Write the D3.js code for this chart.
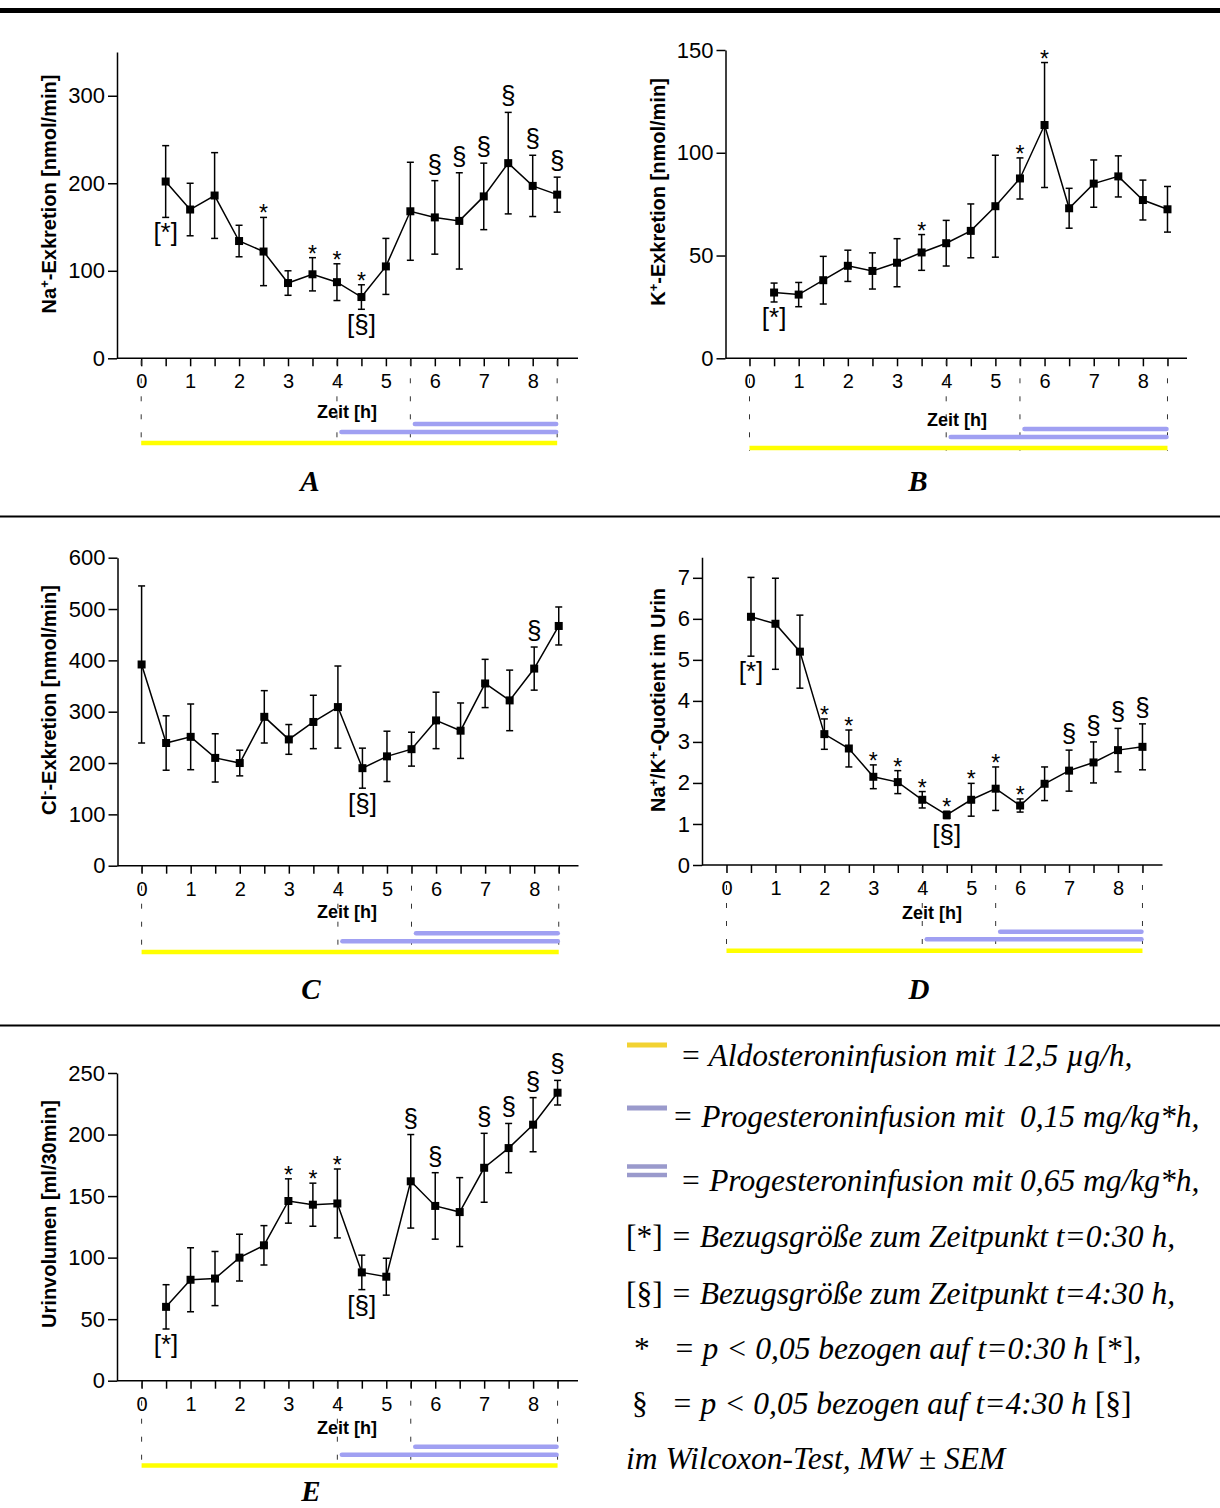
<!DOCTYPE html>
<html lang="de">
<head>
<meta charset="UTF-8">
<title>Aldosteron- und Progesteroninfusion</title>
<script src="https://cdn.jsdelivr.net/npm/d3@7"></script>
<style>
  body { margin: 0; background: #fff; }
  svg text { font-family: Arial, "Liberation Sans", sans-serif; fill: #000; }
  .serif { font-family: "Times New Roman", "Liberation Serif", serif !important; }
</style>
</head>
<body>
<script>
// time points (h)
const hours  = [0.5, 1, 1.5, 2, 2.5, 3, 3.5, 4, 4.5, 5, 5.5, 6, 6.5, 7, 7.5, 8, 8.5];
const hoursC = [0, 0.5, 1, 1.5, 2, 2.5, 3, 3.5, 4, 4.5, 5, 5.5, 6, 6.5, 7, 7.5, 8, 8.5];
const xTicks = [0, 0.5, 1, 1.5, 2, 2.5, 3, 3.5, 4, 4.5, 5, 5.5, 6, 6.5, 7, 7.5, 8, 8.5];

// A: Na+ excretion
const naMean  = [202, 170, 186, 134, 122, 86, 96, 87, 70, 105, 168, 161, 157, 185, 223, 197, 187];
const naSem   = [41, 30, 49, 18, 39, 14, 19, 21, 14, 32, 56, 42, 55, 38, 58, 35, 20];
const naAbove = ["", "", "", "", "*", "", "*", "*", "*", "", "", "§", "§", "§", "§", "§", "§"];
const naBelow = ["[*]", "", "", "", "", "", "", "", "[§]", "", "", "", "", "", "", "", ""];
const naTicks = [0, 100, 200, 300];

// B: K+ excretion
const kMean  = [32, 31, 38, 45, 42.5, 46.5, 51.5, 56, 62, 74, 87.5, 113.5, 73, 85, 88.5, 77, 72.5];
const kSem   = [4.6, 5.9, 11.6, 7.6, 8.8, 11.7, 8.7, 11.1, 13.1, 24.8, 10, 30.4, 9.7, 11.5, 10, 9.7, 11.1];
const kAbove = ["", "", "", "", "", "", "*", "", "", "", "*", "*", "", "", "", "", ""];
const kBelow = ["[*]", "", "", "", "", "", "", "", "", "", "", "", "", "", "", "", ""];
const kTicks = [0, 50, 100, 150];

// C: Cl- excretion
const clMean  = [392, 239, 251, 210, 200, 290, 246, 280, 309, 190, 213, 227, 283, 263, 355, 322, 384, 467];
const clSem   = [153, 53, 64, 47, 25, 51, 29, 52, 80, 39, 49, 33, 55, 54, 47, 59, 42, 37];
const clAbove = ["", "", "", "", "", "", "", "", "", "", "", "", "", "", "", "", "§", ""];
const clBelow = ["", "", "", "", "", "", "", "", "", "[§]", "", "", "", "", "", "", "", ""];
const clTicks = [0, 100, 200, 300, 400, 500, 600];

// D: Na+/K+ ratio
const ratioMean  = [6.05, 5.88, 5.2, 3.19, 2.84, 2.15, 2.02, 1.59, 1.22, 1.59, 1.86, 1.45, 1.98, 2.3, 2.5, 2.8, 2.88];
const ratioSem   = [0.96, 1.11, 0.89, 0.37, 0.45, 0.29, 0.28, 0.2, 0.09, 0.4, 0.53, 0.16, 0.41, 0.5, 0.5, 0.53, 0.56];
const ratioAbove = ["", "", "", "*", "*", "*", "*", "*", "*", "*", "*", "*", "", "§", "§", "§", "§"];
const ratioBelow = ["[*]", "", "", "", "", "", "", "", "[§]", "", "", "", "", "", "", "", ""];
const ratioTicks = [0, 1, 2, 3, 4, 5, 6, 7];

// E: urine volume
const urinMean  = [60, 82, 83, 100, 110, 146, 143, 144, 88, 84.5, 162, 142, 137, 173, 189, 208, 234];
const urinSem   = [18, 26, 22, 19, 16, 18, 17.5, 28, 14, 15, 38, 27, 28, 28, 20, 22, 10];
const urinAbove = ["", "", "", "", "", "*", "*", "*", "", "", "§", "§", "", "§", "§", "§", "§"];
const urinBelow = ["[*]", "", "", "", "", "", "", "", "[§]", "", "", "", "", "", "", "", ""];
const urinTicks = [0, 50, 100, 150, 200, 250];

// infusion periods (h)
const phaseBounds = [0, 4, 5.5, 8.5];
const aldoPeriod = [0, 8.5];
const progLowPeriod = [4, 8.5];
const progHighPeriod = [5.5, 8.5];

const W = 1220, H = 1508;
const svg = d3.select("body").append("svg")
  .attr("width", W).attr("height", H);

// separators
svg.append("line").attr("x1", 0).attr("x2", W).attr("y1", 10.5).attr("y2", 10.5)
  .attr("stroke", "#000").attr("stroke-width", 5);
[516.5, 1025.5].forEach(yy => {
  svg.append("line").attr("x1", 0).attr("x2", W).attr("y1", yy).attr("y2", yy)
    .attr("stroke", "#000").attr("stroke-width", 2);
});

const panels = [
  { letter: "A", t: hours, mean: naMean, sem: naSem, above: naAbove, below: naBelow, yMax: 350, yTicks: naTicks,
    label: [["Na"], ["+", "sup"], ["-Exkretion [nmol/min]"]],
    left: 117, x0: 141.2, x8: 532.7, right: 578, top: 52, bottom: 358.3,
    zeitX: 347, zeitY: 418, blueHi: 424, blueLo: 432, yellow: 443, letterX: 310, letterY: 491, labelX: 56, labelY: 194 },
  { letter: "B", t: hours, mean: kMean, sem: kSem, above: kAbove, below: kBelow, yMax: 150, yTicks: kTicks,
    label: [["K"], ["+", "sup"], ["-Exkretion [nmol/min]"]],
    left: 725.5, x0: 749.5, x8: 1142.9, right: 1187, top: 50, bottom: 358.3,
    zeitX: 957, zeitY: 426, blueHi: 429, blueLo: 437, yellow: 448, letterX: 918, letterY: 491, labelX: 665, labelY: 192 },
  { letter: "C", t: hoursC, mean: clMean, sem: clSem, above: clAbove, below: clBelow, yMax: 600, yTicks: clTicks,
    label: [["Cl"], ["-", "sup"], ["-Exkretion [nmol/min]"]],
    left: 117.5, x0: 141.6, x8: 534.2, right: 578.5, top: 557.7, bottom: 865.7,
    zeitX: 347, zeitY: 918, blueHi: 933.3, blueLo: 941.3, yellow: 952, letterX: 311, letterY: 999, labelX: 56, labelY: 700 },
  { letter: "D", t: hours, mean: ratioMean, sem: ratioSem, above: ratioAbove, below: ratioBelow, yMax: 7.5, yTicks: ratioTicks,
    label: [["Na"], ["+", "sup"], ["/K"], ["+", "sup"], ["-Quotient im Urin"]],
    left: 702, x0: 726.5, x8: 1118, right: 1162.5, top: 557.3, bottom: 865,
    zeitX: 932, zeitY: 919, blueHi: 931.7, blueLo: 939.3, yellow: 950.7, letterX: 919, letterY: 999, labelX: 665, labelY: 700 },
  { letter: "E", t: hours, mean: urinMean, sem: urinSem, above: urinAbove, below: urinBelow, yMax: 250, yTicks: urinTicks,
    label: [["Urinvolumen [ml/30min]"]],
    left: 117, x0: 141.6, x8: 533.1, right: 578, top: 1073, bottom: 1380.7,
    zeitX: 347, zeitY: 1434, blueHi: 1446.7, blueLo: 1454.7, yellow: 1465.5, letterX: 311, letterY: 1501, labelX: 56, labelY: 1214 }
];

function drawPanel(p) {
  const g = svg.append("g");
  const x = d3.scaleLinear().domain([0, 8]).range([p.x0, p.x8]);
  const y = d3.scaleLinear().domain([0, p.yMax]).range([p.bottom, p.top]);

  // y axis
  const yAxis = g.append("g")
    .attr("transform", `translate(${p.left},0)`)
    .call(d3.axisLeft(y).tickValues(p.yTicks).tickSize(9).tickSizeOuter(0).tickPadding(3));
  yAxis.selectAll("path, line").attr("stroke", "#000").attr("stroke-width", 1.5);
  yAxis.selectAll("text").attr("font-size", 22).attr("font-family", "Arial, 'Liberation Sans', sans-serif");

  // x axis
  const xAxis = g.append("g")
    .attr("transform", `translate(0,${p.bottom})`)
    .call(d3.axisBottom(x).tickValues(xTicks).tickSize(8).tickPadding(8)
      .tickFormat(d => Number.isInteger(d) ? d : ""));
  xAxis.select(".domain").remove();
  xAxis.selectAll("line").attr("stroke", "#000").attr("stroke-width", 1.5);
  xAxis.selectAll("text").attr("font-size", 20).attr("font-family", "Arial, 'Liberation Sans', sans-serif");
  g.append("line").attr("x1", p.left).attr("x2", p.right)
    .attr("y1", p.bottom).attr("y2", p.bottom)
    .attr("stroke", "#000").attr("stroke-width", 1.5);

  // y label
  const lab = g.append("text")
    .attr("transform", `translate(${p.labelX},${p.labelY}) rotate(-90)`)
    .attr("text-anchor", "middle")
    .attr("font-weight", "bold")
    .attr("font-size", 20);
  p.label.forEach(([s, kind]) => {
    const ts = lab.append("tspan").text(s);
    if (kind === "sup") ts.attr("font-size", 13).attr("baseline-shift", "super");
  });

  // phase dashed lines
  phaseBounds.forEach(t => {
    g.append("line")
      .attr("x1", x(t)).attr("x2", x(t))
      .attr("y1", p.bottom + 2).attr("y2", p.yellow + 3)
      .attr("stroke", "#333").attr("stroke-width", 1)
      .attr("stroke-dasharray", "5,13");
  });

  // Zeit label
  g.append("text").attr("x", p.zeitX).attr("y", p.zeitY)
    .attr("text-anchor", "middle").attr("font-weight", "bold").attr("font-size", 18)
    .text("Zeit [h]");

  // infusion bars
  g.append("line").attr("x1", x(aldoPeriod[0])).attr("x2", x(aldoPeriod[1]))
    .attr("y1", p.yellow).attr("y2", p.yellow)
    .attr("stroke", "#ffff00").attr("stroke-width", 4.5);
  g.append("line").attr("x1", x(progLowPeriod[0]) + 4.5).attr("x2", x(progLowPeriod[1]) - 1)
    .attr("y1", p.blueLo).attr("y2", p.blueLo)
    .attr("stroke", "#a0a0f2").attr("stroke-width", 4.5).attr("stroke-linecap", "round");
  g.append("line").attr("x1", x(progHighPeriod[0]) + 4.5).attr("x2", x(progHighPeriod[1]) - 1)
    .attr("y1", p.blueHi).attr("y2", p.blueHi)
    .attr("stroke", "#a0a0f2").attr("stroke-width", 4.5).attr("stroke-linecap", "round");

  const pts = p.t.map((t, i) => ({ t, m: p.mean[i], s: p.sem[i], a: p.above[i], b: p.below[i] }));

  // error bars
  const eb = g.append("g").attr("stroke", "#000").attr("stroke-width", 1.5);
  pts.forEach(d => {
    const cx = x(d.t), y1 = y(d.m + d.s), y2 = y(d.m - d.s);
    eb.append("line").attr("x1", cx).attr("x2", cx).attr("y1", y1).attr("y2", y2);
    eb.append("line").attr("x1", cx - 3.5).attr("x2", cx + 3.5).attr("y1", y1).attr("y2", y1);
    eb.append("line").attr("x1", cx - 3.5).attr("x2", cx + 3.5).attr("y1", y2).attr("y2", y2);
  });

  // mean line
  g.append("path").datum(pts)
    .attr("fill", "none").attr("stroke", "#000").attr("stroke-width", 1.5)
    .attr("d", d3.line().x(d => x(d.t)).y(d => y(d.m)));

  // markers
  g.selectAll(".pt").data(pts).enter().append("rect")
    .attr("x", d => x(d.t) - 4).attr("y", d => y(d.m) - 4)
    .attr("width", 8).attr("height", 8).attr("fill", "#000");

  // significance marks
  pts.forEach(d => {
    const cx = x(d.t);
    if (d.a === "*") {
      g.append("text").attr("x", cx).attr("y", y(d.m + d.s) + 4)
        .attr("text-anchor", "middle").attr("font-size", 23).text("*");
    } else if (d.a === "§") {
      g.append("text").attr("x", cx).attr("y", y(d.m + d.s) - 8)
        .attr("text-anchor", "middle").attr("font-size", 26).text("§");
    }
    if (d.b) {
      g.append("text").attr("x", cx).attr("y", y(d.m - d.s) + 24)
        .attr("text-anchor", "middle").attr("font-size", 26).text(d.b);
    }
  });

  // panel letter
  g.append("text").attr("class", "serif")
    .attr("x", p.letterX).attr("y", p.letterY)
    .attr("text-anchor", "middle").attr("font-size", 29)
    .attr("font-weight", "bold").attr("font-style", "italic")
    .text(p.letter);
}

panels.forEach(drawPanel);

// legend
const leg = svg.append("g").attr("class", "legend");
leg.append("line").attr("x1", 627).attr("x2", 667).attr("y1", 1045).attr("y2", 1045)
  .attr("stroke", "#f2d232").attr("stroke-width", 5);
leg.append("line").attr("x1", 627).attr("x2", 667).attr("y1", 1108).attr("y2", 1108)
  .attr("stroke", "#9a9acc").attr("stroke-width", 5);
[1166.5, 1175].forEach(yy => {
  leg.append("line").attr("x1", 627).attr("x2", 667).attr("y1", yy).attr("y2", yy)
    .attr("stroke", "#9a9acc").attr("stroke-width", 4.5);
});

const legendLines = [
  { x: 680, y: 1066, parts: [["= Aldosteroninfusion mit 12,5 µg/h,", "i"]] },
  { x: 672, y: 1127, parts: [["= Progesteroninfusion mit  0,15 mg/kg*h,", "i"]] },
  { x: 680, y: 1191, parts: [["= Progesteroninfusion mit 0,65 mg/kg*h,", "i"]] },
  { x: 626, y: 1247, parts: [["[*] ", "n"], ["= Bezugsgröße zum Zeitpunkt t=0:30 h,", "i"]] },
  { x: 626, y: 1304, parts: [["[§] ", "n"], ["= Bezugsgröße zum Zeitpunkt t=4:30 h,", "i"]] },
  { x: 634, y: 1359, parts: [["*   ", "n"], ["= p < 0,05 bezogen auf t=0:30 h ", "i"], ["[*],", "n"]] },
  { x: 632, y: 1414, parts: [["§   ", "n"], ["= p < 0,05 bezogen auf t=4:30 h ", "i"], ["[§]", "n"]] },
  { x: 626, y: 1469, parts: [["im Wilcoxon-Test, MW ± SEM", "i"]] }
];
legendLines.forEach(l => {
  const t = leg.append("text").attr("class", "serif")
    .attr("x", l.x).attr("y", l.y).attr("font-size", 31.5)
    .style("white-space", "pre");
  l.parts.forEach(([s, st]) => {
    t.append("tspan").attr("font-style", st === "i" ? "italic" : "normal").text(s);
  });
});
</script>
</body>
</html>
